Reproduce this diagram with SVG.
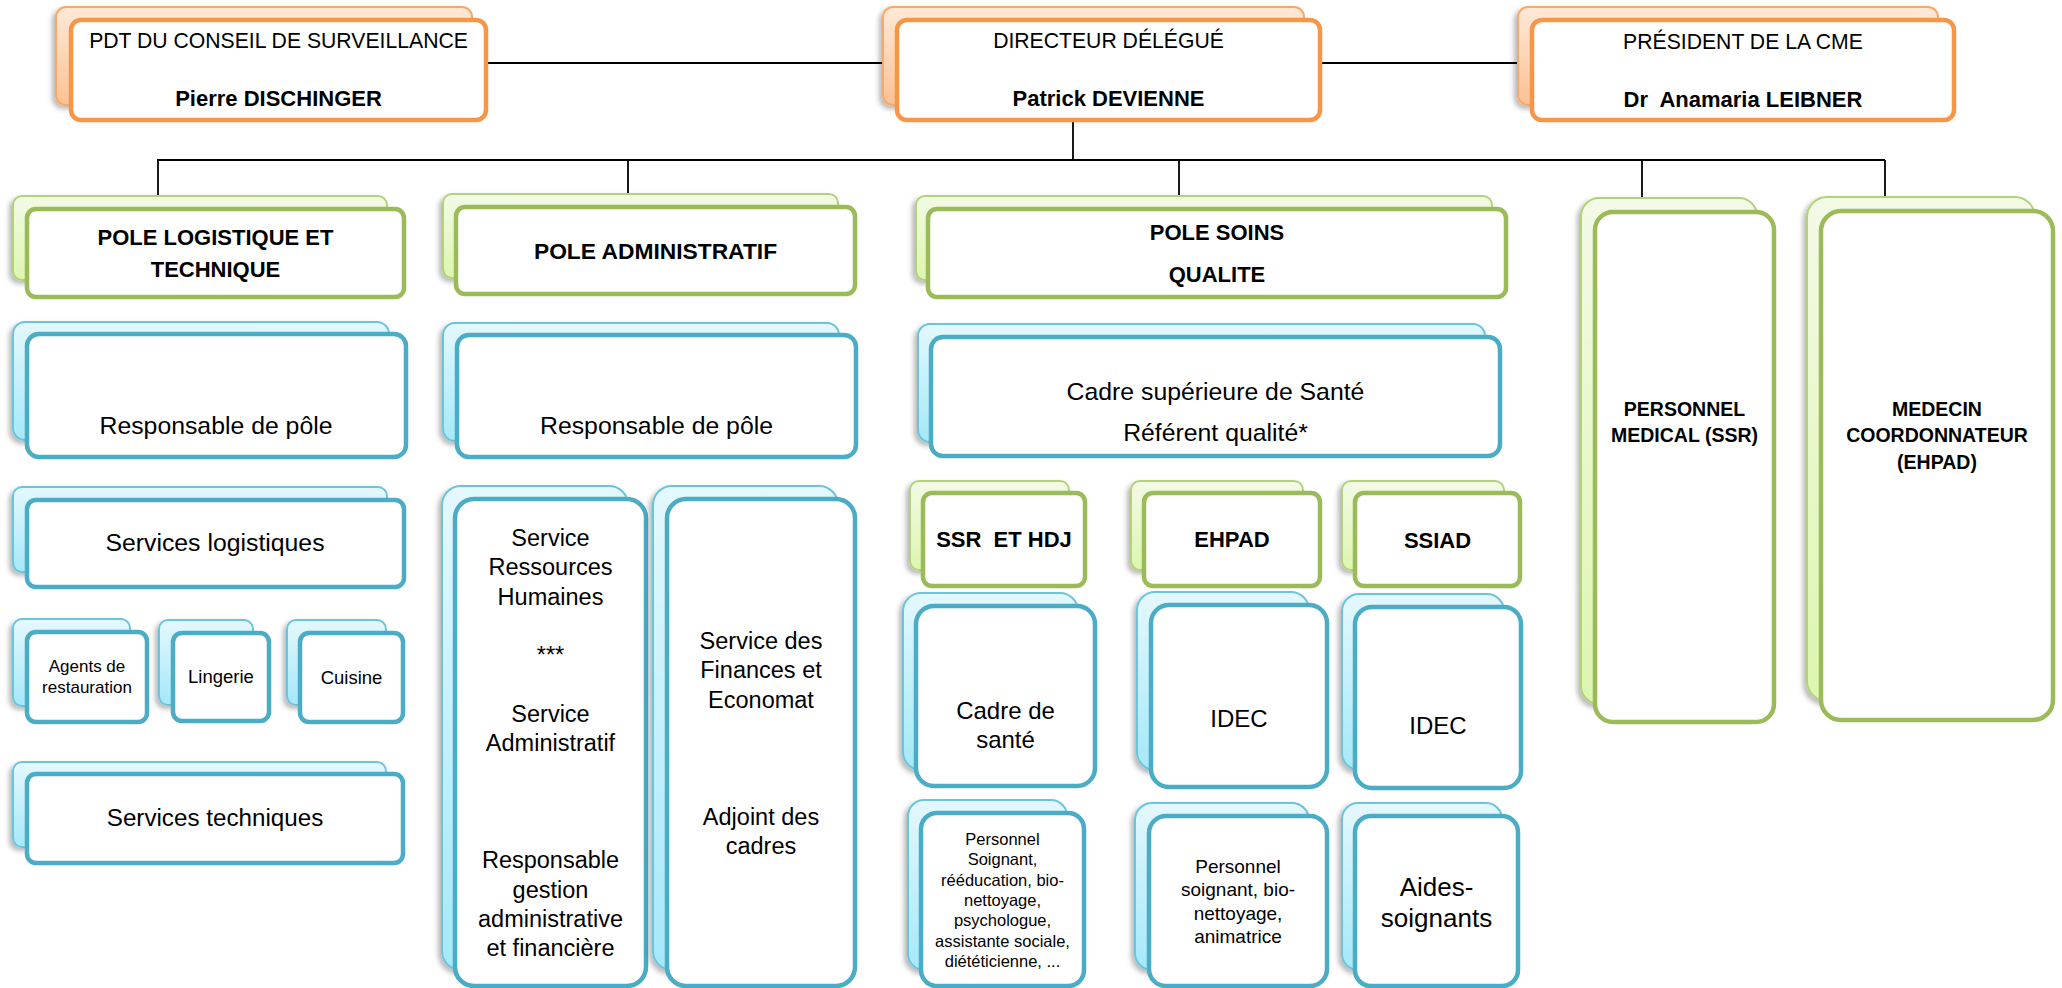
<svg xmlns="http://www.w3.org/2000/svg" width="2062" height="988" viewBox="0 0 2062 988">
<defs>
<linearGradient id="gO" x1="0" y1="0" x2="0" y2="1"><stop offset="0" stop-color="#fde9d8"/><stop offset="1" stop-color="#fbc194"/></linearGradient>
<linearGradient id="gG" x1="0" y1="0" x2="0" y2="1"><stop offset="0" stop-color="#f3fae6"/><stop offset="1" stop-color="#dcf6ae"/></linearGradient>
<linearGradient id="gB" x1="0" y1="0" x2="0" y2="1"><stop offset="0" stop-color="#e4f8fd"/><stop offset="1" stop-color="#a5e8fa"/></linearGradient>
<filter id="sh" x="-10%" y="-10%" width="120%" height="120%"><feDropShadow dx="-3" dy="3" stdDeviation="2.5" flood-color="#000" flood-opacity="0.28"/></filter>
</defs>
<style>
.ob{fill:url(#gO);stroke:#f9a86a;stroke-width:2;filter:url(#sh)}
.of{fill:#fff;stroke:#f79646;stroke-width:4.5}
.gb{fill:url(#gG);stroke:#b3d07a;stroke-width:2;filter:url(#sh)}
.gf{fill:#fff;stroke:#9bbb59;stroke-width:4.5}
.bb{fill:url(#gB);stroke:#6cc4dc;stroke-width:2;filter:url(#sh)}
.bf{fill:#fff;stroke:#4bacc6;stroke-width:4.5}
text{font-family:"Liberation Sans",Arial,sans-serif;fill:#000;text-anchor:middle}
.tt{font-size:21.2px}
.tn{font-size:22px;font-weight:bold}
.hd{font-size:22px;font-weight:bold}
.md{font-size:19.5px;font-weight:bold}
.r25{font-size:24.8px}
.r23{font-size:23.5px}
.r24{font-size:24px}
.s17{font-size:17px}
.s18{font-size:18.5px}
.s16{font-size:16.5px}
.s19{font-size:19px}
.s26{font-size:26px}
#connectors path{fill:none;stroke:#000;stroke-width:1.8}
</style>
<g id="connectors">
<path d="M486 63 H883"/>
<path d="M1320 63 H1518"/>
<path d="M1073 120 V160"/>
<path d="M157 160 H1885"/>
<path d="M158 160 V196"/>
<path d="M628 160 V194"/>
<path d="M1179 160 V196"/>
<path d="M1642 160 V198"/>
<path d="M1885 160 V197"/>
</g>
<g id="pdt">
<rect class="ob" x="56" y="7" width="416" height="98" rx="10"/>
<rect class="of" x="71" y="20" width="415" height="100" rx="10"/>
<text class="tt" x="278.5" y="48">PDT DU CONSEIL DE SURVEILLANCE</text>
<text class="tn" x="278.5" y="106">Pierre DISCHINGER</text>
</g>
<g id="directeur">
<rect class="ob" x="883" y="7" width="421" height="98" rx="10"/>
<rect class="of" x="897" y="20" width="423" height="100" rx="10"/>
<text class="tt" x="1108.5" y="48">DIRECTEUR DÉLÉGUÉ</text>
<text class="tn" x="1108.5" y="106">Patrick DEVIENNE</text>
</g>
<g id="president">
<rect class="ob" x="1518" y="7" width="420" height="98" rx="10"/>
<rect class="of" x="1532" y="20" width="422" height="100" rx="10"/>
<text class="tt" x="1743" y="49">PRÉSIDENT DE LA CME</text>
<text class="tn" x="1743" y="107" xml:space="preserve">Dr  Anamaria LEIBNER</text>
</g>
<g id="pole-logistique">
<rect class="gb" x="13" y="196" width="374" height="84" rx="9"/>
<rect class="gf" x="27" y="209" width="377" height="88" rx="9"/>
<text class="hd" x="215.5" y="245">POLE LOGISTIQUE ET</text>
<text class="hd" x="215.5" y="277">TECHNIQUE</text>
</g>
<g id="pole-administratif">
<rect class="gb" x="443" y="194" width="395" height="84" rx="9"/>
<rect class="gf" x="456" y="207" width="399" height="87" rx="9"/>
<text class="hd" x="655.5" y="259" style="font-size:22.8px">POLE ADMINISTRATIF</text>
</g>
<g id="pole-soins">
<rect class="gb" x="916" y="196" width="576" height="84" rx="9"/>
<rect class="gf" x="928" y="209" width="578" height="88" rx="9"/>
<text class="hd" x="1217" y="240">POLE SOINS</text>
<text class="hd" x="1217" y="282">QUALITE</text>
</g>
<g id="personnel-medical">
<rect class="gb" x="1581" y="198" width="176" height="506" rx="18"/>
<rect class="gf" x="1595" y="212" width="179" height="510" rx="18"/>
<text class="md" x="1684.5" y="416">PERSONNEL</text>
<text class="md" x="1684.5" y="442">MEDICAL (SSR)</text>
</g>
<g id="medecin-coordonnateur">
<rect class="gb" x="1807" y="197" width="228" height="504" rx="20"/>
<rect class="gf" x="1821" y="211" width="232" height="509" rx="20"/>
<text class="md" x="1937" y="416">MEDECIN</text>
<text class="md" x="1937" y="442">COORDONNATEUR</text>
<text class="md" x="1937" y="469">(EHPAD)</text>
</g>
<g id="resp-logistique">
<rect class="bb" x="13" y="322" width="376" height="118" rx="12"/>
<rect class="bf" x="27" y="334" width="379" height="123" rx="12"/>
<text class="r25" x="216" y="434">Responsable de pôle</text>
</g>
<g id="resp-administratif">
<rect class="bb" x="443" y="323" width="396" height="118" rx="12"/>
<rect class="bf" x="457" y="335" width="399" height="122" rx="12"/>
<text class="r25" x="656.5" y="434">Responsable de pôle</text>
</g>
<g id="cadre-superieure">
<rect class="bb" x="918" y="324" width="567" height="118" rx="12"/>
<rect class="bf" x="931" y="337" width="569" height="119" rx="12"/>
<text class="r25" x="1215.5" y="400">Cadre supérieure de Santé</text>
<text class="r25" x="1215.5" y="441">Référent qualité*</text>
</g>
<g id="services-logistiques">
<rect class="bb" x="13" y="487" width="374" height="85" rx="9"/>
<rect class="bf" x="27" y="500" width="377" height="87" rx="9"/>
<text class="r25" x="215" y="551">Services logistiques</text>
</g>
<g id="rh">
<rect class="bb" x="442" y="486" width="186" height="484" rx="19"/>
<rect class="bf" x="455" y="499" width="191" height="487" rx="19"/>
<text class="r23" x="550.5" y="546">Service</text>
<text class="r23" x="550.5" y="575.3">Ressources</text>
<text class="r23" x="550.5" y="604.6">Humaines</text>
<text class="r23" x="550.5" y="663.2">***</text>
<text class="r23" x="550.5" y="721.8">Service</text>
<text class="r23" x="550.5" y="751.1">Administratif</text>
<text class="r23" x="550.5" y="868.3">Responsable</text>
<text class="r23" x="550.5" y="897.6">gestion</text>
<text class="r23" x="550.5" y="926.9">administrative</text>
<text class="r23" x="550.5" y="956.2">et financière</text>
</g>
<g id="finances">
<rect class="bb" x="653" y="486" width="185" height="484" rx="19"/>
<rect class="bf" x="667" y="499" width="188" height="487" rx="19"/>
<text class="r23" x="761" y="649">Service des</text>
<text class="r23" x="761" y="678.3">Finances et</text>
<text class="r23" x="761" y="707.6">Economat</text>
<text class="r23" x="761" y="824.8">Adjoint des</text>
<text class="r23" x="761" y="854.1">cadres</text>
</g>
<g id="ssr-hdj">
<rect class="gb" x="910" y="481" width="159" height="89" rx="9"/>
<rect class="gf" x="923" y="493" width="162" height="93" rx="9"/>
<text class="hd" x="1004" y="547" xml:space="preserve">SSR  ET HDJ</text>
</g>
<g id="ehpad">
<rect class="gb" x="1131" y="481" width="172" height="89" rx="9"/>
<rect class="gf" x="1144" y="493" width="176" height="93" rx="9"/>
<text class="hd" x="1232" y="547">EHPAD</text>
</g>
<g id="ssiad">
<rect class="gb" x="1342" y="481" width="162" height="89" rx="9"/>
<rect class="gf" x="1355" y="493" width="165" height="93" rx="9"/>
<text class="hd" x="1437.5" y="548">SSIAD</text>
</g>
<g id="agents-restauration">
<rect class="bb" x="13" y="619" width="117" height="87" rx="9"/>
<rect class="bf" x="27" y="632" width="120" height="90" rx="9"/>
<text class="s17" x="87" y="672">Agents de</text>
<text class="s17" x="87" y="693">restauration</text>
</g>
<g id="lingerie">
<rect class="bb" x="159" y="620" width="94" height="85" rx="9"/>
<rect class="bf" x="173" y="633" width="96" height="88" rx="9"/>
<text class="s18" x="221" y="683">Lingerie</text>
</g>
<g id="cuisine">
<rect class="bb" x="287" y="620" width="99" height="85" rx="9"/>
<rect class="bf" x="300" y="633" width="103" height="89" rx="9"/>
<text class="s18" x="351.5" y="684">Cuisine</text>
</g>
<g id="cadre-sante">
<rect class="bb" x="903" y="593" width="175" height="177" rx="18"/>
<rect class="bf" x="916" y="606" width="179" height="180" rx="18"/>
<text class="r24" x="1005.5" y="719">Cadre de</text>
<text class="r24" x="1005.5" y="748">santé</text>
</g>
<g id="idec-ehpad">
<rect class="bb" x="1137" y="592" width="172" height="178" rx="18"/>
<rect class="bf" x="1151" y="605" width="176" height="182" rx="18"/>
<text class="r24" x="1239" y="727">IDEC</text>
</g>
<g id="idec-ssiad">
<rect class="bb" x="1342" y="594" width="162" height="176" rx="17"/>
<rect class="bf" x="1355" y="607" width="166" height="181" rx="17"/>
<text class="r24" x="1438" y="734">IDEC</text>
</g>
<g id="services-techniques">
<rect class="bb" x="13" y="762" width="373" height="85" rx="9"/>
<rect class="bf" x="27" y="774" width="376" height="89" rx="9"/>
<text class="r25" x="215" y="826" style="font-size:24.2px">Services techniques</text>
</g>
<g id="personnel-ssr">
<rect class="bb" x="908" y="800" width="159" height="170" rx="16"/>
<rect class="bf" x="921" y="813" width="163" height="173" rx="16"/>
<text class="s16" x="1002.5" y="845">Personnel</text>
<text class="s16" x="1002.5" y="865.3">Soignant,</text>
<text class="s16" x="1002.5" y="885.7">rééducation, bio-</text>
<text class="s16" x="1002.5" y="906">nettoyage,</text>
<text class="s16" x="1002.5" y="926.3">psychologue,</text>
<text class="s16" x="1002.5" y="946.7">assistante sociale,</text>
<text class="s16" x="1002.5" y="967">diététicienne, ...</text>
</g>
<g id="personnel-ehpad">
<rect class="bb" x="1135" y="803" width="174" height="167" rx="17"/>
<rect class="bf" x="1149" y="816" width="178" height="170" rx="17"/>
<text class="s19" x="1238" y="873">Personnel</text>
<text class="s19" x="1238" y="896.3">soignant, bio-</text>
<text class="s19" x="1238" y="919.6">nettoyage,</text>
<text class="s19" x="1238" y="943">animatrice</text>
</g>
<g id="aides-soignants">
<rect class="bb" x="1342" y="803" width="160" height="167" rx="16"/>
<rect class="bf" x="1355" y="816" width="163" height="170" rx="16"/>
<text class="s26" x="1436.5" y="896">Aides-</text>
<text class="s26" x="1436.5" y="927">soignants</text>
</g>
</svg>
